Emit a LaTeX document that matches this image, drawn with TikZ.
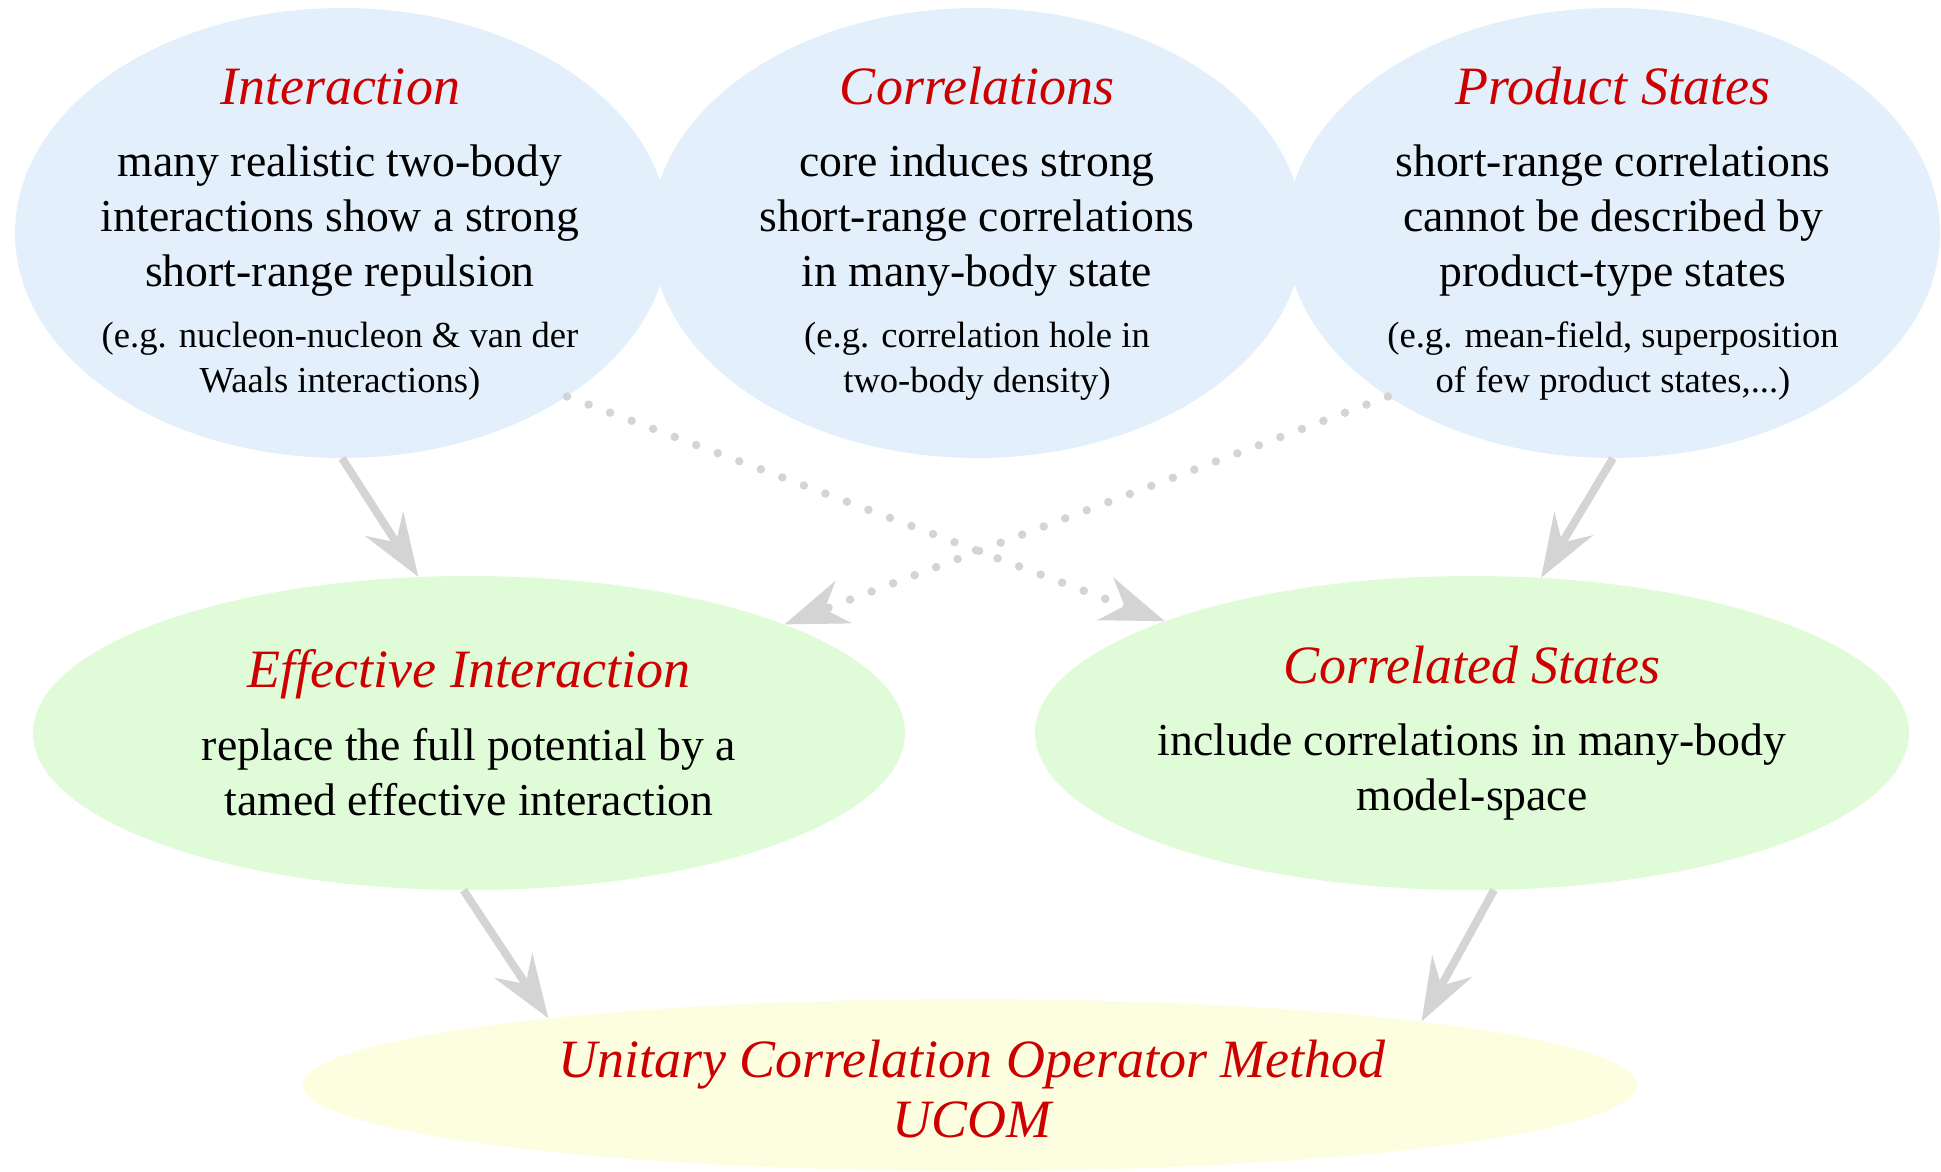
\documentclass[tikz,border=0pt]{standalone}
\usepackage{fontspec}
\setmainfont{Liberation Serif}
\usetikzlibrary{shapes.geometric,arrows.meta}
\definecolor{topblue}{HTML}{E3F0FC}
\definecolor{midgreen}{HTML}{E0FBD8}
\definecolor{botyellow}{HTML}{FDFDE0}
\definecolor{titlered}{HTML}{CC0000}
\definecolor{arrowgray}{HTML}{D4D4D4}
\tikzset{
  blob/.style={ellipse, draw=none, inner sep=0pt},
  ttl/.style={anchor=base, inner sep=0pt, text=titlered, font=\fontsize{54}{60}\selectfont\itshape},
  bdy/.style={anchor=base, inner sep=0pt, font=\fontsize{45.7}{55}\selectfont},
  sml/.style={anchor=base, inner sep=0pt, font=\fontsize{36.6}{45}\selectfont},
  conn/.style={draw=arrowgray, line width=8pt, -{Stealth[length=63pt,width=45pt,inset=22pt]}},
  dotconn/.style={draw=arrowgray, line width=8.5pt, line cap=round, dash pattern=on 0pt off 23pt, -{Stealth[length=63pt,width=45pt,inset=20pt,line cap=butt]}}
}
\begin{document}
\begin{tikzpicture}[x=1pt,y=-1pt]
\useasboundingbox (0,0) rectangle (1941,1172);
% ellipses
\node[blob, fill=topblue, minimum width=654pt, minimum height=450pt] (int) at (342,233) {};
\node[blob, fill=topblue, minimum width=652pt, minimum height=450pt] (cor) at (977,233) {};
\node[blob, fill=topblue, minimum width=654pt, minimum height=450pt] (prod) at (1613,233) {};
\node[blob, fill=midgreen, minimum width=872pt, minimum height=314pt] (eff) at (469,733) {};
\node[blob, fill=midgreen, minimum width=874pt, minimum height=314pt] (cs) at (1472,733) {};
\node[blob, fill=botyellow, minimum width=1334pt, minimum height=172pt] (ucom) at (970,1085) {};
% connectors
\draw[conn] (int.south) -- (eff.108);
\draw[conn] (prod.south) -- (cs.66);
\draw[conn] (eff.268) -- (ucom.171.8);
\draw[conn] (cs.278) -- (ucom.8);
\draw[dotconn] (int.-36) -- (cs.160);
\draw[dotconn] (prod.216) -- (eff.19);
% texts: Interaction
\node[ttl] (int-t) at (340,104) {Interaction};
\node[bdy] (int-b1) at (340,176) {many realistic two-body};
\node[bdy] (int-b2) at (340,231) {interactions show a strong};
\node[bdy] (int-b3) at (340,286) {short-range repulsion};
\node[sml] (int-s1) at (340,347) {(e.g. nucleon-nucleon \& van der};
\node[sml] (int-s2) at (340,392) {Waals interactions)};
% Correlations
\node[ttl] (cor-t) at (977,104) {Correlations};
\node[bdy] (cor-b1) at (977,176) {core induces strong};
\node[bdy] (cor-b2) at (977,231) {short-range correlations};
\node[bdy] (cor-b3) at (977,286) {in many-body state};
\node[sml] (cor-s1) at (977,347) {(e.g. correlation hole in};
\node[sml] (cor-s2) at (977,392) {two-body density)};
% Product States
\node[ttl] (prod-t) at (1613,104) {Product States};
\node[bdy] (prod-b1) at (1613,176) {short-range correlations};
\node[bdy] (prod-b2) at (1613,231) {cannot be described by};
\node[bdy] (prod-b3) at (1613,286) {product-type states};
\node[sml] (prod-s1) at (1613,347) {(e.g. mean-field, superposition};
\node[sml] (prod-s2) at (1613,392) {of few product states,...)};
% Effective Interaction
\node[ttl] (eff-t) at (469,687) {Effective Interaction};
\node[bdy] (eff-b1) at (469,760) {replace the full potential by a};
\node[bdy] (eff-b2) at (469,815) {tamed effective interaction};
% Correlated States
\node[ttl] (cs-t) at (1472,683) {Correlated States};
\node[bdy] (cs-b1) at (1472,755) {include correlations in many-body};
\node[bdy] (cs-b2) at (1472,810) {model-space};
% UCOM
\node[ttl] (ucom-t1) at (972,1077) {Unitary Correlation Operator Method};
\node[ttl] (ucom-t2) at (972,1137) {UCOM};
\end{tikzpicture}
\end{document}
